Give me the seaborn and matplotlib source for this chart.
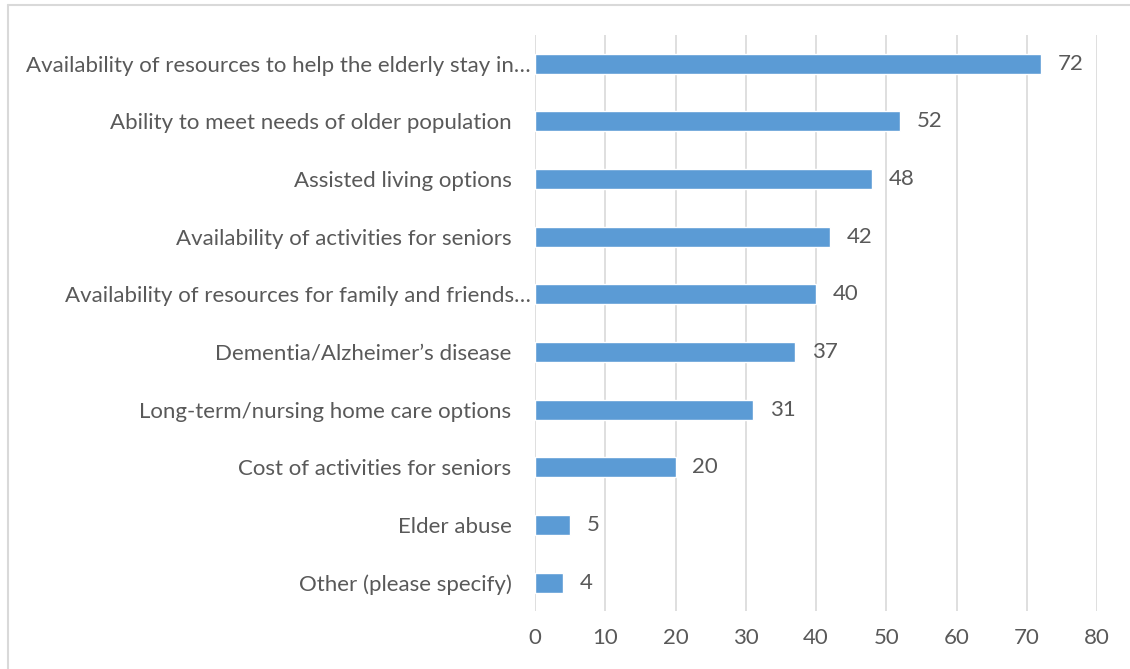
import matplotlib
matplotlib.use("Agg")
import matplotlib.pyplot as plt
import matplotlib.transforms as mtransforms
import seaborn as sns
import pandas as pd
from matplotlib.lines import Line2D

# survey categories and counts, top to bottom
categories = [
    "Availability of resources to help the elderly stay in\u2026",
    "Ability to meet needs of older population",
    "Assisted living options",
    "Availability of activities for seniors",
    "Availability of resources for family and friends\u2026",
    "Dementia/Alzheimer\u2019s disease",
    "Long-term/nursing home care options",
    "Cost of activities for seniors",
    "Elder abuse",
    "Other (please specify)",
]
counts = [72, 52, 48, 42, 40, 37, 31, 20, 5, 4]
x_ticks = [0, 10, 20, 30, 40, 50, 60, 70, 80]

df = pd.DataFrame({"category": categories, "count": counts})

sns.set_theme(style="white")
plt.rcParams["font.family"] = ["Lato", "DejaVu Sans"]
text_color = "#595959"

fig = plt.figure(figsize=(11.3, 6.69), dpi=100)
ax = fig.add_axes([0.4735, 0.086, 0.4973, 0.862])

sns.barplot(data=df, x="count", y="category", color="#5b9bd5",
            width=0.35, saturation=1, ax=ax, zorder=3)

ax.set_xlim(0, 80)
ax.set_ylim(9.5, -0.5)
ax.set_xticks(x_ticks)
ax.xaxis.grid(True, color="#d9d9d9", linewidth=1.2, zorder=0)
ax.set_axisbelow(True)
for s in ax.spines.values():
    s.set_visible(False)
ax.set_xlabel("")
ax.set_ylabel("")
ax.tick_params(axis="x", colors=text_color, labelsize=16, length=0, pad=12)
ax.tick_params(axis="y", colors=text_color, labelsize=16, length=0, pad=17)

# truncated labels run closer to the axis, like Excel does
shift = mtransforms.ScaledTranslation(19 / 100, 0, fig.dpi_scale_trans)
for lab in ax.get_yticklabels():
    if lab.get_text().endswith("\u2026"):
        lab.set_transform(lab.get_transform() + shift)

for i, v in enumerate(counts):
    ax.text(v + 2.4, i, str(v), va="center", ha="left",
            fontsize=16, color=text_color)

# chart frame (only left and top edges visible in the reference)
fig.add_artist(Line2D([8 / 1130, 8 / 1130], [0, 1 - 5 / 669],
                      color="#d9d9d9", linewidth=1.5, transform=fig.transFigure))
fig.add_artist(Line2D([8 / 1130, 1], [1 - 5 / 669, 1 - 5 / 669],
                      color="#d9d9d9", linewidth=1.5, transform=fig.transFigure))

fig.savefig("out.png", dpi=100)
